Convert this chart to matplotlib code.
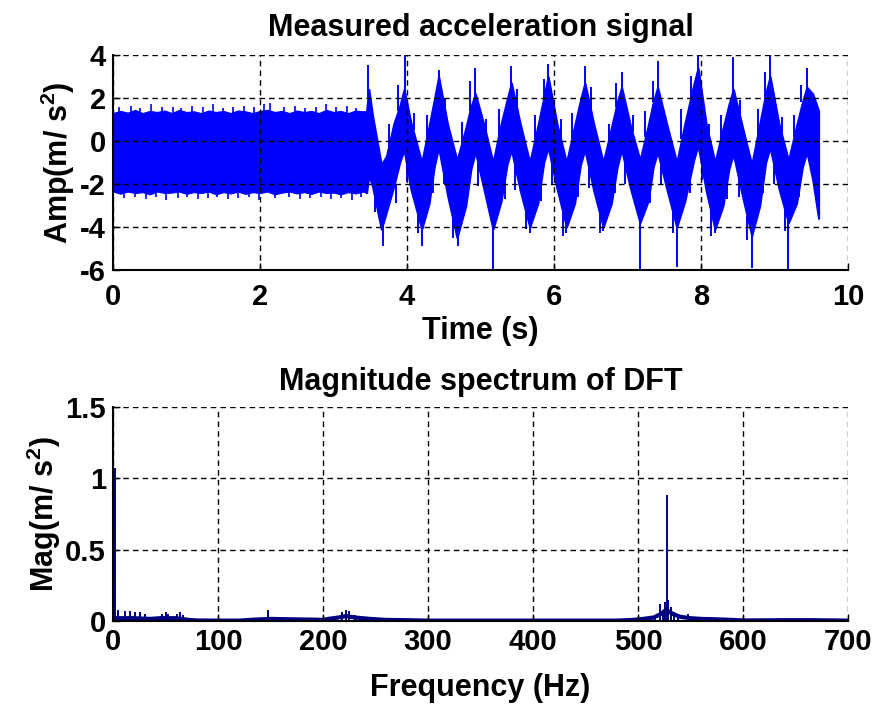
import matplotlib
matplotlib.use("Agg")
import matplotlib.pyplot as plt
import numpy as np

plt.rcParams['font.family'] = ['Liberation Sans', 'DejaVu Sans']
plt.rcParams['font.weight'] = 'bold'
plt.rcParams['axes.unicode_minus'] = False
plt.rcParams['mathtext.fontset'] = 'custom'
plt.rcParams['mathtext.rm'] = 'Liberation Sans:bold'
plt.rcParams['mathtext.default'] = 'rm'

# ---------------- data: measured acceleration signal (envelope) ----
pre_t = [0.00, 0.10, 0.20, 0.30, 0.40, 0.50, 0.60, 0.70, 0.80, 0.90, 1.00, 1.10,
         1.20, 1.30, 1.40, 1.50, 1.60, 1.70, 1.80, 1.90, 2.00, 2.10, 2.20, 2.30,
         2.40, 2.50, 2.60, 2.70, 2.80, 2.90, 3.00, 3.10, 3.20, 3.30, 3.40, 3.45]
pre_upper = [1.30, 1.40, 1.32, 1.45, 1.30, 1.40, 1.35, 1.42, 1.30, 1.45, 1.35, 1.38,
             1.30, 1.42, 1.35, 1.40, 1.30, 1.42, 1.38, 1.30, 1.40, 1.45, 1.35, 1.40,
             1.30, 1.42, 1.35, 1.40, 1.30, 1.45, 1.35, 1.40, 1.30, 1.42, 1.38, 1.40]
pre_lower = [-2.35, -2.45, -2.35, -2.42, -2.38, -2.48, -2.35, -2.42, -2.40, -2.35, -2.46, -2.38,
             -2.42, -2.35, -2.48, -2.38, -2.44, -2.35, -2.46, -2.38, -2.42, -2.35, -2.48, -2.40,
             -2.35, -2.44, -2.38, -2.46, -2.35, -2.42, -2.40, -2.48, -2.38, -2.44, -2.35, -2.42]

pre_spike_up_t = [0.08, 0.25, 0.37, 0.52, 0.66, 0.81, 0.93, 1.07, 1.22, 1.36, 1.49, 1.63,
                  1.78, 1.92, 2.05, 2.14, 2.33, 2.47, 2.61, 2.76, 2.90, 3.03, 3.18, 3.31]
pre_spike_up_tip = [1.60, 1.65, 1.55, 1.70, 1.60, 1.60, 1.55, 1.65, 1.60, 1.70, 1.55, 1.60,
                    1.65, 1.60, 1.70, 1.75, 1.60, 1.65, 1.55, 1.60, 1.70, 1.60, 1.65, 1.55]
pre_spike_dn_t = [0.15, 0.30, 0.45, 0.58, 0.72, 0.88, 1.01, 1.15, 1.29, 1.42, 1.57, 1.70,
                  1.85, 1.99, 2.20, 2.40, 2.54, 2.68, 2.83, 2.97, 3.10, 3.25, 3.38]
pre_spike_dn_tip = [-2.65, -2.60, -2.70, -2.60, -2.75, -2.65, -2.60, -2.70, -2.65, -2.60, -2.70, -2.65,
                    -2.60, -2.75, -2.65, -2.60, -2.70, -2.65, -2.60, -2.70, -2.65, -2.75, -2.60]

osc_t = [3.45, 3.48, 3.53, 3.65, 3.72, 3.82, 3.90, 3.96, 4.05, 4.20, 4.30, 4.37, 4.43,
         4.55, 4.68, 4.80, 4.87, 4.93, 5.05, 5.17, 5.28, 5.36, 5.42, 5.54, 5.67, 5.78,
         5.86, 5.92, 6.04, 6.17, 6.28, 6.36, 6.42, 6.54, 6.67, 6.78, 6.86, 6.92, 7.04,
         7.17, 7.28, 7.35, 7.41, 7.54, 7.67, 7.78, 7.90, 7.96, 8.07, 8.19, 8.30, 8.38,
         8.44, 8.56, 8.69, 8.80, 8.88, 8.94, 9.06, 9.19, 9.30, 9.38, 9.44, 9.52, 9.60]
osc_upper = [1.40, 2.40, 1.20, -1.10, -0.70, 0.80, 1.60, 2.40, 0.90, -1.00, 0.70, 1.90, 3.00,
             0.80, -0.90, 0.60, 1.60, 2.20, 0.70, -1.00, 0.80, 1.90, 2.70, 0.80, -1.00, 0.70,
             2.00, 3.00, 0.80, -1.00, 0.70, 1.90, 2.70, 0.80, -1.00, 0.60, 1.80, 2.50, 0.70,
             -0.90, 0.70, 1.80, 2.50, 0.70, -1.00, 0.80, 2.60, 3.40, 0.80, -1.00, 0.60, 1.70,
             2.40, 0.70, -1.10, 0.80, 2.20, 3.00, 0.80, -0.90, 0.70, 1.80, 2.50, 2.20, 1.40]
osc_lower = [-2.40, -1.60, -2.10, -4.10, -3.30, -2.10, -1.00, -0.40, -2.20, -4.10, -2.90, -1.20, -0.30,
             -2.50, -4.50, -3.00, -1.30, -0.50, -2.30, -4.10, -2.80, -1.10, -0.40, -2.30, -4.00, -2.90,
             -1.00, -0.30, -2.20, -4.00, -2.90, -1.10, -0.40, -2.30, -4.00, -2.90, -1.20, -0.40, -2.20,
             -3.80, -2.80, -1.20, -0.50, -2.30, -4.00, -2.80, -0.90, -0.20, -2.30, -4.10, -3.00, -1.30,
             -0.60, -2.50, -4.40, -3.00, -1.00, -0.30, -2.20, -3.80, -2.90, -1.20, -0.50, -1.80, -3.60]

# isolated spikes of the time signal: time, base, tip
spike_t = [3.47, 3.97, 4.43, 4.93, 5.42, 5.92, 6.42, 6.92, 7.41, 7.96, 8.44, 8.94, 9.44,
           3.68, 4.20, 4.70, 5.17, 5.67, 6.17, 6.67, 7.17, 7.67, 8.19, 8.69, 9.19,
           3.75, 3.88, 4.10, 4.27, 4.52, 4.75, 4.86, 5.08, 5.25, 5.50, 5.74, 5.86, 6.09,
           6.25, 6.50, 6.75, 6.85, 7.07, 7.24, 7.35, 7.73, 7.87, 8.11, 8.27, 8.53, 8.77,
           8.87, 9.10, 9.27, 9.36,
           3.56, 3.85, 4.00, 4.15, 4.35, 4.50, 4.62, 4.97, 5.33, 5.47, 5.62, 5.82, 5.97,
           6.12, 6.33, 6.47, 6.62, 6.83, 6.97, 7.31, 7.46, 7.62, 7.85, 8.01, 8.14, 8.36,
           8.52, 8.63, 8.85, 8.99, 9.14, 9.33]
spike_base = [2.0, 2.0, 2.5, 2.0, 2.3, 2.5, 2.3, 2.2, 2.2, 3.0, 2.0, 2.5, 2.2,
              -3.8, -3.8, -4.2, -3.8, -3.8, -3.8, -3.8, -3.6, -3.8, -3.8, -4.0, -3.6,
              -0.3, 1.4, 0.5, -0.1, 1.2, -0.1, 1.4, 0.2, 0.0, 1.4, 0.0, 2.0, 0.1,
              0.1, 1.4, 0.0, 1.6, 0.4, 0.2, 1.8, 0.1, 2.0, 0.1, 0.0, 1.0, 0.3,
              2.0, 0.2, 0.2, 1.8,
              -2.4, -2.0, -0.8, -3.2, -1.6, -1.0, -3.6, -1.0, -1.7, -1.0, -3.2, -1.6, -1.0,
              -3.2, -1.6, -1.0, -3.2, -1.5, -1.0, -1.8, -1.0, -3.2, -1.3, -0.7, -3.2, -1.6,
              -1.4, -3.5, -1.4, -1.0, -3.0, -1.6]
spike_tip = [3.55, 4.00, 3.30, 3.40, 3.50, 3.60, 3.50, 3.20, 3.70, 4.00, 3.90, 4.00, 3.40,
             -4.90, -4.90, -4.90, -6.00, -4.30, -4.30, -4.20, -6.00, -5.85, -4.30, -5.90, -6.00,
             0.8, 2.6, 1.3, 1.2, 2.0, 0.9, 2.8, 1.0, 1.5, 2.4, 1.2, 2.9, 1.0,
             1.3, 2.5, 0.8, 2.7, 1.2, 1.4, 2.8, 1.5, 3.0, 0.8, 1.2, 1.9, 1.5,
             3.2, 1.1, 1.2, 2.6,
             -3.3, -2.9, -1.9, -4.3, -2.4, -2.0, -4.5, -2.1, -2.7, -2.3, -4.1, -2.8, -2.0,
             -4.4, -2.6, -2.2, -4.3, -2.4, -2.0, -2.9, -2.0, -4.3, -2.4, -1.8, -4.4, -2.7,
             -2.6, -4.6, -2.4, -2.0, -4.2, -2.6]

# ---------------- data: magnitude spectrum ----------------
floor_f = [0, 3, 8, 20, 35, 45, 60, 72, 80, 100, 120, 135, 150, 170, 190, 200, 205, 215,
           222, 230, 245, 260, 280, 300, 400, 480, 495, 505, 515, 522, 527, 533, 540, 550,
           560, 575, 590, 600, 640, 665, 700]
floor_mag = [0.0, 0.02, 0.02, 0.02, 0.015, 0.02, 0.02, 0.008, 0.004, 0.003, 0.003, 0.01, 0.015,
             0.012, 0.01, 0.008, 0.015, 0.025, 0.035, 0.025, 0.015, 0.008, 0.006, 0.003, 0.003,
             0.003, 0.008, 0.015, 0.025, 0.05, 0.08, 0.05, 0.03, 0.02, 0.015, 0.012, 0.008,
             0.004, 0.006, 0.006, 0.003]
peak_f = [2, 5, 11, 16, 21, 26, 30, 47, 50, 52, 61, 64, 67, 140, 148, 155, 165, 212,
          218, 222, 225, 230, 240, 512, 516, 521, 524, 526, 527.5, 529, 531, 534, 538,
          548, 555, 565]
peak_mag = [1.07, 0.08, 0.07, 0.07, 0.06, 0.06, 0.05, 0.05, 0.06, 0.05, 0.05, 0.06, 0.04,
            0.02, 0.077, 0.02, 0.015, 0.03, 0.06, 0.08, 0.07, 0.04, 0.02, 0.02, 0.03, 0.12,
            0.08, 0.13, 0.88, 0.15, 0.10, 0.06, 0.04, 0.05, 0.025, 0.02]

# ---------------- figure ----------------
fig = plt.figure(figsize=(8.77, 7.05), dpi=100)
ax1 = fig.add_axes([0.1289, 0.617, 0.838, 0.305])
ax2 = fig.add_axes([0.1289, 0.1191, 0.838, 0.3036])

blue = '#0000ff'
navy = '#000080'
grid_kw = dict(color='black', linestyle=(0, (4, 3)), linewidth=1.0)

# top
ax1.fill_between(pre_t, pre_lower, pre_upper, color=blue, linewidth=0.8, edgecolor=blue)
ax1.vlines(pre_spike_up_t, 1.2, pre_spike_up_tip, color=blue, linewidth=1.2)
ax1.vlines(pre_spike_dn_t, -2.3, pre_spike_dn_tip, color=blue, linewidth=1.2)
ax1.fill_between(osc_t, osc_lower, osc_upper, color=blue, linewidth=1.5, edgecolor=blue)
ax1.vlines(spike_t, spike_base, spike_tip, color=blue, linewidth=1.4)
ax1.set_xlim(0, 10)
ax1.set_ylim(-6, 4)
ax1.set_xticks([0, 2, 4, 6, 8, 10])
ax1.set_yticks([-6, -4, -2, 0, 2, 4])
ax1.set_title('Measured acceleration signal', fontsize=22, fontweight='bold', pad=14)
ax1.set_xlabel('Time (s)', fontsize=22, fontweight='bold', labelpad=4)
ax1.set_ylabel('Amp(m/ s$^{2}$)', fontsize=22, fontweight='bold', labelpad=2)

# bottom
ax2.plot(floor_f, floor_mag, color=navy, linewidth=3, solid_joinstyle='miter')
ax2.vlines(peak_f, 0, peak_mag, color=navy, linewidth=1.4)
ax2.set_xlim(0, 700)
ax2.set_ylim(0, 1.5)
ax2.set_xticks([0, 100, 200, 300, 400, 500, 600, 700])
ax2.set_yticks([0, 0.5, 1, 1.5])
ax2.set_yticklabels(['0', '0.5', '1', '1.5'])
ax2.set_title('Magnitude spectrum of DFT', fontsize=22, fontweight='bold', pad=12)
ax2.set_xlabel('Frequency (Hz)', fontsize=22, fontweight='bold', labelpad=12)
ax2.set_ylabel('Mag(m/ s$^{2}$)', fontsize=22, fontweight='bold', labelpad=2)

for ax in (ax1, ax2):
    ax.grid(True, **grid_kw)
    ax.set_axisbelow(False)
    ax.spines['top'].set_visible(False)
    ax.spines['right'].set_visible(False)
    ax.spines['left'].set_linewidth(1.5)
    ax.spines['bottom'].set_linewidth(1.5)
    ax.tick_params(direction='in', length=5, width=1, labelsize=21)
    ax.tick_params(axis='y', pad=5)
    for lab in ax.get_xticklabels() + ax.get_yticklabels():
        lab.set_fontweight('bold')
ax1.tick_params(axis='x', pad=9)
ax2.tick_params(axis='x', pad=5)

fig.savefig('out.png', dpi=100)
